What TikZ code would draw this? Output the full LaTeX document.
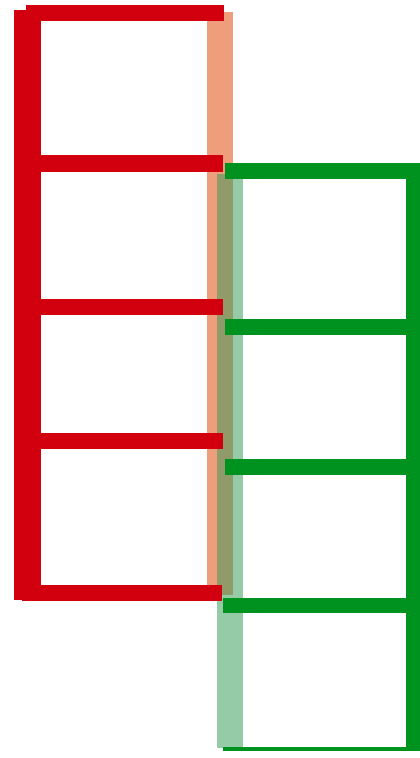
\documentclass[tikz,border=0pt]{standalone}
\definecolor{redbar}{RGB}{210,0,14}
\definecolor{greenbar}{RGB}{0,146,30}
\definecolor{salmon}{RGB}{238,158,122}
\definecolor{palegreen}{RGB}{150,203,168}
\definecolor{olive}{RGB}{143,156,106}
\tikzset{bar/.style={fill=#1,draw=none}}
\begin{document}
\begin{tikzpicture}[x=1pt,y=-1pt]
\useasboundingbox[fill=white] (0,0) rectangle (420,758);
% translucent verticals
\fill[salmon] (207,12) rectangle (233,595);
\fill[palegreen] (217,174) rectangle (243,748);
\fill[olive] (217,174) rectangle (233,595);
% red frame
\fill[bar=redbar] (14,10) rectangle (41,600);
\fill[bar=redbar] (26,5) rectangle (224,21);
\fill[bar=redbar] (40,155) rectangle (223,172);
\fill[bar=redbar] (40,299) rectangle (223,315);
\fill[bar=redbar] (40,433) rectangle (223,449);
\fill[bar=redbar] (22,585) rectangle (222,601);
% green frame
\fill[bar=greenbar] (406,163) rectangle (420,750);
\fill[bar=greenbar] (225,163) rectangle (420,179);
\fill[bar=greenbar] (225,319) rectangle (420,335);
\fill[bar=greenbar] (225,459) rectangle (420,475);
\fill[bar=greenbar] (223,598) rectangle (420,613);
\fill[bar=greenbar] (223,747) rectangle (420,751);
\end{tikzpicture}
\end{document}
